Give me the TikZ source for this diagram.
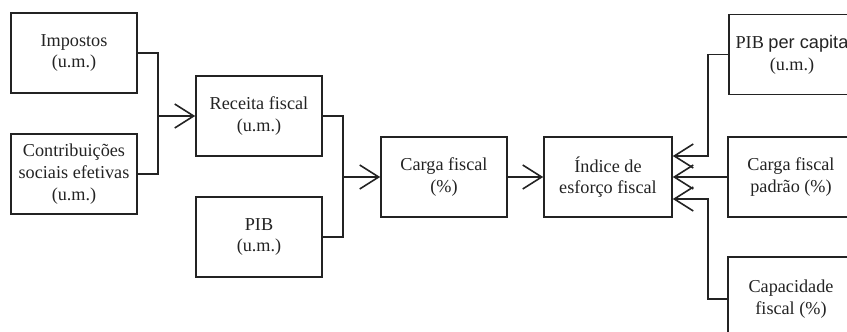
\documentclass[tikz,border=0pt]{standalone}
\usepackage{fontspec}
\setmainfont{Liberation Serif}
\newfontfamily\sansf{Liberation Sans}
\usetikzlibrary{arrows.meta}
\definecolor{ink}{RGB}{35,35,35}
\begin{document}
\begin{tikzpicture}[x=1pt,y=-1pt,
  box/.style={draw=ink, line width=1.6pt, minimum width=126pt, minimum height=80pt,
    align=center, inner sep=2pt, text=ink, font=\fontsize{18.2}{21.7}\selectfont},
  conn/.style={draw=ink, line width=1.6pt},
  arr/.style={conn, -{Straight Barb[length=19pt,width=24pt,line width=1.6pt]}}]
\useasboundingbox (0,0) rectangle (847,332);
\clip (0,0) rectangle (847,332);
\node[box] (imp) at (74,53) {Impostos\\(u.m.)};
\node[box] (con) at (74,174) {Contribuições\\sociais efetivas\\(u.m.)};
\node[box] (rec) at (259,116) {Receita fiscal\\(u.m.)};
\node[box] (pib) at (259,237) {PIB\\(u.m.)};
\node[box] (car) at (444,177) {Carga fiscal\\(\%)};
\node[box, minimum width=128pt] (ind) at (608,177) {Índice de\\esforço fiscal};
\node[box] (pc) at (792,54.5) {PIB {\sansf per capita}\\(u.m.)};
\node[box] (pad) at (791,177) {Carga fiscal\\padrão (\%)};
\node[box, minimum height=84pt] (cap) at (791,299) {Capacidade\\fiscal (\%)};
\coordinate (j1) at (158,116);
\coordinate (j2) at (343,177);
\coordinate (j3a) at (708,156);
\coordinate (j3b) at (708,199);
\draw[conn] (imp.east) -| (j1) |- (con.east);
\draw[arr] (j1) -- (rec.west);
\draw[conn] (rec.east) -| (j2) |- (pib.east);
\draw[arr] (j2) -- (car.west);
\draw[arr] (car.east) -- (ind.west);
\draw[arr] (pc.west) -| (j3a) -- (j3a -| ind.east);
\draw[arr] (pad.west) -- (ind.east);
\draw[arr] (cap.west) -| (j3b) -- (j3b -| ind.east);
\end{tikzpicture}
\end{document}
